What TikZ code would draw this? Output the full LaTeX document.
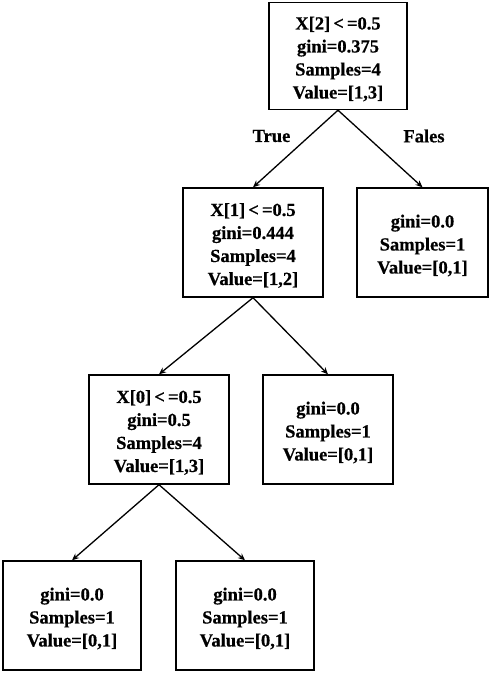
\documentclass[tikz,border=0pt]{standalone}
\usepackage{fontspec}
\setmainfont{Liberation Serif}[BoldFeatures={FakeBold=0.6}]
\usetikzlibrary{arrows.meta}
\begin{document}
\begin{tikzpicture}[x=1pt,y=-1pt,
  box/.style={draw,line width=1.4pt,rectangle,inner sep=0pt},
  txt/.style={align=center,font=\fontsize{18.5}{23}\selectfont\bfseries,yshift=-3pt},
  edge/.style={line width=1.3pt,-{Stealth[length=7pt,width=6pt]}},
  lbl/.style={font=\fontsize{18.5}{23}\selectfont\bfseries}]
\useasboundingbox (0,0) rectangle (498,673);
\node[box,minimum width=138pt,minimum height=107pt,label={[txt]center:{X[2]\,<\,=0.5\\gini=0.375\\Samples=4\\Value=[1,3]}}] (root) at (338,56) {};
\node[box,minimum width=140pt,minimum height=109pt,label={[txt]center:{X[1]\,<\,=0.5\\gini=0.444\\Samples=4\\Value=[1,2]}}] (x1) at (253,242.5) {};
\node[box,minimum width=131pt,minimum height=109pt,label={[txt]center:{gini=0.0\\Samples=1\\Value=[0,1]}}] (r1) at (422.5,242.5) {};
\node[box,minimum width=140pt,minimum height=109pt,label={[txt]center:{X[0]\,<\,=0.5\\gini=0.5\\Samples=4\\Value=[1,3]}}] (x0) at (159,429.5) {};
\node[box,minimum width=130pt,minimum height=109pt,label={[txt]center:{gini=0.0\\Samples=1\\Value=[0,1]}}] (r2) at (328,429.5) {};
\node[box,minimum width=138pt,minimum height=109pt,label={[txt]center:{gini=0.0\\Samples=1\\Value=[0,1]}}] (l1) at (72,615.5) {};
\node[box,minimum width=138pt,minimum height=109pt,label={[txt]center:{gini=0.0\\Samples=1\\Value=[0,1]}}] (l2) at (245,615.5) {};
\draw[edge] (root.south) -- (x1.north);
\draw[edge] (root.south) -- (r1.north);
\draw[edge] (x1.south) -- (x0.north);
\draw[edge] (x1.south) -- (r2.north);
\draw[edge] (x0.south) -- (l1.north);
\draw[edge] (x0.south) -- (l2.north);
\node[lbl] (t) at (271.5,136) {True};
\node[lbl] (f) at (424,136) {Fales};
\end{tikzpicture}
\end{document}
